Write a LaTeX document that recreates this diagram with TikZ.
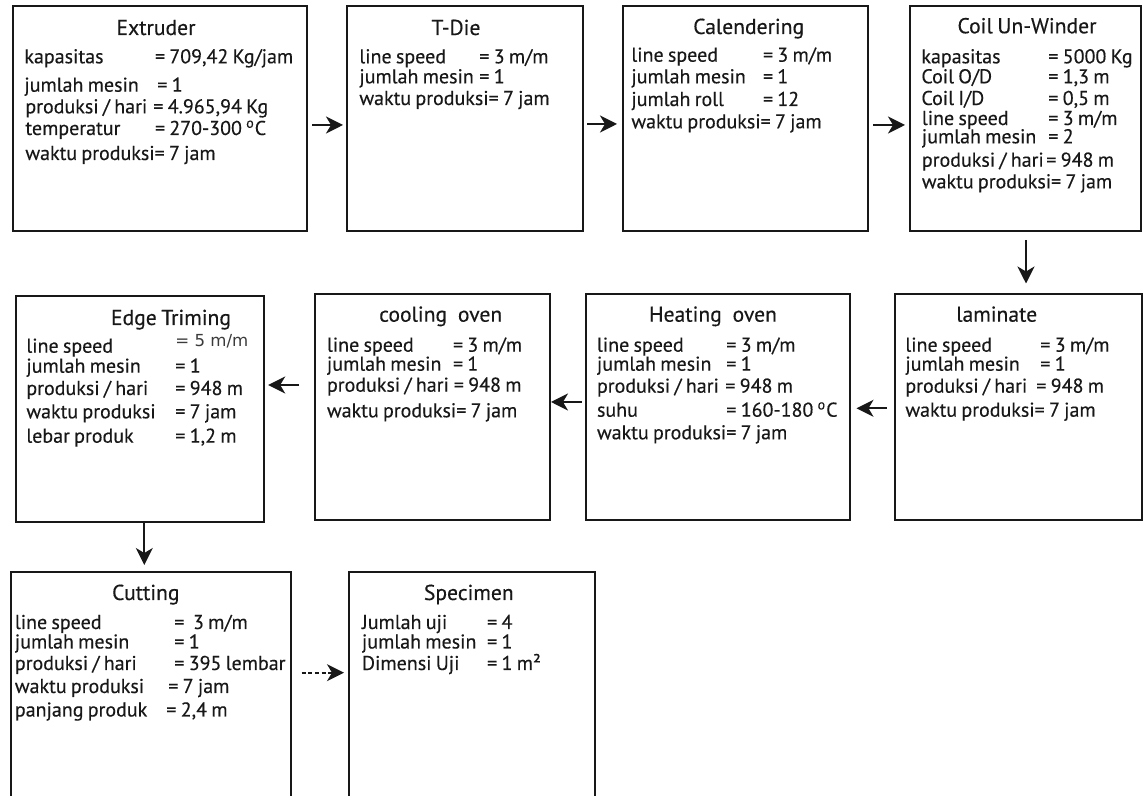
\documentclass[tikz,border=0pt]{standalone}
\usepackage{fontspec}
\setmainfont{PT Sans}[FakeBold=0.3, WordSpace=0.8]
\newfontfamily\altfont{DejaVu Sans}
\usetikzlibrary{arrows.meta}
\definecolor{ink}{RGB}{24,24,24}
\tikzset{
  box/.style={draw=ink, line width=1pt, rectangle, anchor=north west, inner sep=0pt, outer sep=0pt},
  txt/.style={inner sep=0pt, anchor=base west, text=ink, font=\fontsize{10}{12}\selectfont},
  ttl/.style={inner sep=0pt, anchor=base, text=ink, font=\fontsize{10.8}{13}\selectfont},
  arr/.style={draw=ink, line width=0.9pt, -{Stealth[length=8.5pt,width=8.5pt,inset=2.5pt]}},
  dotarr/.style={arr, dash pattern=on 2pt off 1.3pt},
}
\newcommand\kv[6]{%
  \node[txt] (#1l) at (#3,#2) {#4};
  \node[txt] (#1v) at (#5,#2) {#6};}
\newcommand\oneline[4]{\node[txt] (#1) at (#3,#2) {#4};}
\begin{document}
\begin{tikzpicture}[x=0.5pt,y=-0.5pt]
\useasboundingbox (0,0) rectangle (1148,796);
\clip (0,0) rectangle (1148,796);
\fill[white] (0,0) rectangle (1148,796);

% ---------- boxes ----------
\node[box, minimum width=147.25pt, minimum height=112.5pt] (ext)  at (12.5,6.5) {};
\node[box, minimum width=117.75pt, minimum height=112.5pt] (tdie) at (347,6.5) {};
\node[box, minimum width=122.5pt,  minimum height=112.5pt] (cal)  at (623,6.5) {};
\node[box, minimum width=115.25pt, minimum height=112.5pt] (coil) at (910,6.5) {};
\node[box, minimum width=124pt,    minimum height=113pt]   (edge) at (15.5,296.5) {};
\node[box, minimum width=117.25pt, minimum height=113.25pt] (cool) at (315,294) {};
\node[box, minimum width=132pt,    minimum height=113.25pt] (heat) at (585.5,294) {};
\node[box, minimum width=123.5pt,  minimum height=113.25pt] (lam)  at (894.5,294) {};
\node[box, minimum width=140.15pt, minimum height=130pt]   (cut)  at (10.7,572) {};
\node[box, minimum width=123pt,    minimum height=130pt]   (spec) at (349,572) {};

% ---------- Extruder ----------
\node[ttl] (extT) at (156,35) {Extruder};
\kv{ex1}{63.3}{24}{kapasitas}{154.6}{= 709,42 Kg/jam}
\kv{ex2}{91.7}{24}{jumlah mesin}{157}{= 1}
\kv{ex3}{113.3}{25}{produksi / hari}{153}{= 4.965,94 Kg}
\kv{ex4}{135}{25}{temperatur}{154.6}{= 270-300 \textsuperscript{o}C}
\oneline{ex5}{160}{25}{waktu produksi= 7 jam}

% ---------- T-Die ----------
\node[ttl] (tdieT) at (456,35) {T-Die};
\kv{td1}{63.3}{359}{line speed}{479}{= 3 m/m}
\kv{td2}{83.3}{359}{jumlah mesin}{479}{= 1}
\oneline{td3}{105}{359}{waktu produksi= 7 jam}

% ---------- Calendering ----------
\node[ttl] (calT) at (748.7,34) {Calendering};
\kv{ca1}{61.7}{631}{line speed}{762.6}{= 3 m/m}
\kv{ca2}{83.3}{631}{jumlah mesin}{762.6}{= 1}
\kv{ca3}{106}{631}{jumlah roll}{762.6}{= 12}
\oneline{ca4}{128.3}{631}{waktu produksi= 7 jam}

% ---------- Coil Un-Winder ----------
\node[ttl] (coilT) at (1027,33.3) {Coil Un-Winder};
\kv{co1}{63.3}{921}{kapasitas}{1048}{= 5000 Kg}
\kv{co2}{83.3}{921}{Coil O/D}{1048}{= 1,3 m}
\kv{co3}{105}{921}{Coil I/D}{1048}{= 0,5 m}
\kv{co4}{125}{921.5}{line speed}{1048}{= 3 m/m}
\kv{co5}{143.3}{921.5}{jumlah mesin}{1048}{= 2}
\kv{co6}{166.7}{921.5}{produksi / hari}{1046}{= 948 m}
\oneline{co7}{188.3}{921.5}{waktu produksi= 7 jam}

% ---------- Edge Triming ----------
\node[ttl] (edgeT) at (171,325) {Edge Triming};
\node[txt] (ed1l) at (26,352.7) {line speed};
\node[txt, font=\altfont\fontsize{8.3}{10}\selectfont, text=ink!85] (ed1v) at (175,346.7) {= 5 m/m};
\kv{ed2}{372.7}{26}{jumlah mesin}{175}{= 1}
\kv{ed3}{395}{26}{produksi / hari}{175}{= 948 m}
\kv{ed4}{418.3}{26}{waktu produksi}{175}{= 7 jam}
\kv{ed5}{442.7}{26}{lebar produk}{175}{= 1,2 m}

% ---------- cooling oven ----------
\node[ttl] (coolT) at (440.7,321.7) {cooling\enspace oven};
\kv{cl1}{351.7}{326.6}{line speed}{452.6}{= 3 m/m}
\kv{cl2}{370.7}{326.6}{jumlah mesin}{452.6}{= 1}
\kv{cl3}{391.7}{326.6}{produksi / hari}{453.5}{= 948 m}
\oneline{cl4}{417.3}{326.6}{waktu produksi= 7 jam}

% ---------- Heating oven ----------
\node[ttl] (heatT) at (713,321.7) {Heating\enspace oven};
\kv{he1}{351.7}{596.6}{line speed}{726}{= 3 m/m}
\kv{he2}{370.7}{596.6}{jumlah mesin}{726}{= 1}
\kv{he3}{392.7}{596.6}{produksi / hari}{725}{= 948 m}
\kv{he4}{416.7}{596.6}{suhu}{726}{= 160-180 \textsuperscript{o}C}
\oneline{he5}{439.3}{596.6}{waktu produksi= 7 jam}

% ---------- laminate ----------
\node[ttl] (lamT) at (996.7,321.7) {laminate};
\kv{la1}{351.7}{905}{line speed}{1040}{= 3 m/m}
\kv{la2}{370.7}{905}{jumlah mesin}{1040}{= 1}
\kv{la3}{392.7}{905}{produksi / hari}{1036}{= 948 m}
\oneline{la4}{416.7}{905}{waktu produksi= 7 jam}

% ---------- Cutting ----------
\node[ttl] (cutT) at (145.8,600) {Cutting};
\kv{cu1}{629}{14.5}{line speed}{174}{=\ \ 3 m/m}
\kv{cu2}{648.5}{14.5}{jumlah mesin}{174}{= 1}
\kv{cu3}{670}{14.5}{produksi / hari}{174}{= 395 lembar}
\kv{cu4}{693}{14.5}{waktu produksi}{168}{= 7 jam}
\kv{cu5}{716.5}{14.5}{panjang produk}{166}{= 2,4 m}

% ---------- Specimen ----------
\node[ttl] (specT) at (468.8,600) {Specimen};
\kv{sp1}{629}{361.6}{Jumlah uji}{486.8}{= 4}
\kv{sp2}{648.5}{361.6}{jumlah mesin}{486.8}{= 1}
\kv{sp3}{670}{361.6}{Dimensi Uji}{486.8}{= 1 m²}

% ---------- connectors ----------
\draw[arr] ([shift={(5,118.5)}]ext.north east) -- ([shift={(-4,118.5)}]tdie.north west);
\draw[arr] ([shift={(4.5,117.5)}]tdie.north east) -- ([shift={(-6,117.5)}]cal.north west);
\draw[arr] ([shift={(5.4,118.5)}]cal.north east) -- ([shift={(-5,118.5)}]coil.north west);
\draw[arr] ([shift={(0.75,8.5)}]coil.south) -- ([shift={(0.75,-10.5)}]coil.south |- lam.north);
\draw[arr] ([shift={(-8,114.3)}]lam.north west) -- ([shift={(7,114.3)}]heat.north east);
\draw[arr] ([shift={(-4,108)}]heat.north west) -- ([shift={(1.5,108)}]cool.north east);
\draw[arr] ([shift={(-16,91)}]cool.north west) -- ([shift={(4.7,88.5)}]edge.north east);
\draw[arr] ([shift={(4.8,0)}]edge.south) -- ([shift={(4.8,-7)}]edge.south |- cut.north);
\draw[dotarr] ([shift={(10.7,100.7)}]cut.north east) -- ([shift={(-5,100.7)}]spec.north west);
\end{tikzpicture}
\end{document}
